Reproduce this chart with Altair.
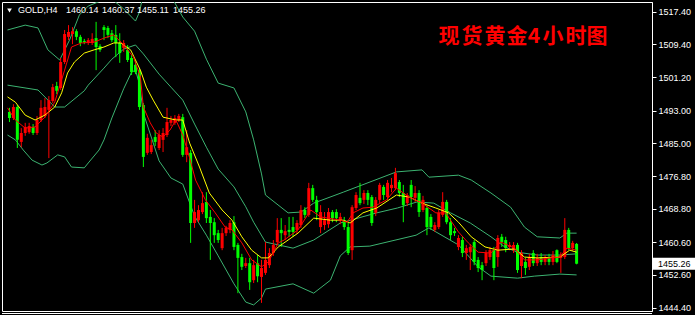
import altair as alt
import pandas as pd

# ---- GOLD H4 candles (oldest -> newest) ----
opens = [1492.7, 1491.2, 1493.9, 1485.3, 1487.5, 1487.7, 1489.0, 1487.5, 1490.7, 1491.7,
         1493.2, 1495.4, 1499.1, 1498.6, 1505.0, 1511.2, 1511.9, 1512.6, 1511.2, 1510.2,
         1509.7, 1509.7, 1510.9, 1508.9, 1513.6, 1513.4, 1512.1, 1511.7, 1509.7, 1508.5,
         1508.0, 1506.0, 1504.3, 1503.0, 1494.4, 1482.6, 1482.8, 1486.5, 1483.8, 1485.8,
         1487.0, 1490.0, 1490.0, 1490.7, 1491.4, 1482.1, 1482.6, 1465.3, 1466.0, 1468.0,
         1470.5, 1466.8, 1465.5, 1462.8, 1459.1, 1462.8, 1463.6, 1465.5, 1459.9, 1456.9,
         1454.7, 1455.4, 1451.2, 1455.4, 1452.0, 1453.0, 1454.9, 1457.9, 1460.6, 1463.6,
         1462.3, 1463.6, 1464.3, 1463.6, 1464.8, 1468.5, 1467.3, 1473.9, 1471.0, 1464.3,
         1464.8, 1465.0, 1468.0, 1468.0, 1466.0, 1466.0, 1464.3, 1458.6, 1469.0, 1471.5,
         1471.0, 1472.7, 1471.7, 1467.8, 1471.0, 1474.2, 1471.7, 1473.9, 1473.9, 1475.4,
         1472.7, 1470.2, 1474.7, 1471.5, 1472.7, 1468.5, 1469.0, 1466.8, 1463.6, 1464.3,
         1467.3, 1470.5, 1465.5, 1463.3, 1459.4, 1461.1, 1457.9, 1458.1, 1460.6, 1456.2,
         1454.9, 1455.4, 1456.9, 1458.6, 1456.9, 1461.9, 1461.1, 1459.4, 1458.6, 1459.9,
         1454.7, 1455.7, 1454.5, 1457.9, 1455.4, 1456.9, 1455.7, 1456.9, 1455.7, 1458.6,
         1456.7, 1456.9, 1463.6, 1459.1, 1460.14]
highs = [1493.7, 1494.6, 1494.4, 1488.7, 1490.0, 1490.0, 1489.7, 1491.7, 1495.6, 1496.1,
         1496.6, 1499.6, 1500.1, 1506.0, 1512.9, 1514.1, 1513.6, 1513.1, 1511.7, 1510.7,
         1510.9, 1512.1, 1514.9, 1509.4, 1514.1, 1513.9, 1512.9, 1514.1, 1512.1, 1510.4,
         1509.2, 1506.7, 1505.5, 1503.5, 1494.9, 1487.3, 1485.8, 1488.2, 1488.2, 1488.7,
         1493.7, 1491.7, 1491.9, 1492.2, 1492.2, 1488.2, 1483.3, 1471.0, 1469.7, 1472.9,
         1472.9, 1468.5, 1466.5, 1463.6, 1464.1, 1464.6, 1466.0, 1467.0, 1460.4, 1457.7,
         1456.7, 1456.7, 1456.2, 1457.4, 1456.2, 1460.6, 1459.1, 1461.1, 1466.5, 1466.5,
         1464.8, 1466.8, 1466.8, 1466.0, 1469.7, 1469.2, 1475.2, 1474.7, 1472.0, 1469.7,
         1468.0, 1469.0, 1468.5, 1468.7, 1467.8, 1466.8, 1465.3, 1469.7, 1472.9, 1475.2,
         1473.4, 1473.4, 1472.2, 1471.7, 1475.2, 1474.7, 1475.9, 1476.4, 1478.9, 1475.9,
         1474.7, 1472.7, 1475.9, 1474.4, 1473.4, 1472.0, 1469.7, 1467.5, 1465.5, 1468.5,
         1472.9, 1471.0, 1466.5, 1464.1, 1462.3, 1461.9, 1459.9, 1460.1, 1461.1, 1456.9,
         1455.7, 1458.6, 1459.4, 1459.4, 1462.3, 1462.6, 1461.9, 1460.6, 1460.6, 1460.4,
         1458.6, 1456.7, 1457.7, 1458.6, 1457.7, 1457.9, 1457.4, 1457.7, 1458.4, 1458.8,
         1458.1, 1466.5, 1464.1, 1460.9, 1460.37]
lows = [1490.2, 1490.7, 1483.8, 1484.0, 1486.8, 1487.3, 1487.0, 1487.0, 1490.2, 1491.2,
        1481.3, 1494.9, 1497.1, 1498.1, 1504.5, 1510.4, 1509.4, 1510.4, 1508.9, 1509.4,
        1509.2, 1509.2, 1503.0, 1507.5, 1510.4, 1510.9, 1509.9, 1506.2, 1504.8, 1507.5,
        1505.0, 1501.8, 1502.0, 1493.2, 1479.1, 1482.1, 1482.3, 1484.3, 1483.3, 1482.8,
        1486.5, 1489.2, 1489.5, 1490.2, 1481.6, 1480.3, 1460.4, 1464.1, 1465.5, 1467.5,
        1465.3, 1456.2, 1460.4, 1460.4, 1458.6, 1462.1, 1462.8, 1458.6, 1448.0, 1453.7,
        1454.2, 1448.8, 1450.5, 1450.7, 1445.6, 1452.5, 1454.2, 1457.2, 1459.9, 1459.4,
        1461.1, 1461.9, 1461.9, 1462.6, 1464.1, 1466.5, 1466.8, 1470.5, 1466.0, 1462.8,
        1463.6, 1464.1, 1465.5, 1465.5, 1465.0, 1463.6, 1457.4, 1456.2, 1468.5, 1469.7,
        1470.0, 1469.7, 1464.6, 1467.0, 1470.2, 1471.0, 1471.0, 1472.9, 1473.4, 1471.7,
        1465.5, 1469.5, 1469.2, 1470.5, 1466.8, 1468.0, 1462.3, 1463.6, 1463.1, 1463.8,
        1466.8, 1465.0, 1461.1, 1462.1, 1458.6, 1456.9, 1456.2, 1453.7, 1454.9, 1453.2,
        1451.2, 1454.7, 1456.2, 1451.2, 1454.5, 1459.4, 1458.1, 1458.6, 1457.9, 1453.0,
        1451.7, 1452.5, 1453.7, 1454.7, 1454.7, 1454.9, 1454.9, 1454.9, 1454.9, 1455.4,
        1453.0, 1456.4, 1458.6, 1458.4, 1455.11]
closes = [1491.2, 1493.9, 1485.8, 1487.5, 1489.0, 1489.2, 1487.5, 1490.7, 1493.7, 1493.9,
          1495.6, 1498.8, 1497.9, 1505.0, 1511.9, 1512.4, 1512.6, 1511.2, 1509.7, 1509.9,
          1510.4, 1510.7, 1508.7, 1508.0, 1512.9, 1511.7, 1510.4, 1509.7, 1507.2, 1509.7,
          1505.5, 1502.5, 1502.5, 1493.9, 1481.6, 1486.3, 1484.5, 1485.3, 1487.0, 1487.5,
          1490.2, 1490.7, 1491.2, 1491.7, 1482.1, 1484.0, 1465.3, 1468.0, 1468.5, 1470.2,
          1466.5, 1465.3, 1462.3, 1461.1, 1462.8, 1464.1, 1465.3, 1459.4, 1456.7, 1454.5,
          1455.4, 1450.7, 1454.9, 1452.2, 1454.2, 1456.2, 1457.9, 1459.9, 1463.6, 1462.8,
          1463.3, 1463.1, 1463.1, 1465.3, 1468.5, 1467.3, 1473.9, 1471.0, 1468.0, 1468.0,
          1466.0, 1468.0, 1466.5, 1466.5, 1466.8, 1464.3, 1457.9, 1469.2, 1472.2, 1470.2,
          1472.7, 1471.0, 1465.3, 1471.0, 1474.7, 1472.2, 1475.2, 1474.7, 1477.6, 1472.7,
          1469.7, 1472.2, 1471.7, 1472.7, 1468.0, 1471.0, 1464.3, 1464.3, 1464.8, 1467.8,
          1470.5, 1465.5, 1462.3, 1462.8, 1461.6, 1457.9, 1459.1, 1459.4, 1455.7, 1454.2,
          1453.7, 1457.9, 1458.6, 1454.2, 1461.6, 1460.6, 1459.1, 1459.9, 1459.9, 1453.7,
          1457.9, 1454.2, 1456.9, 1455.4, 1456.7, 1455.7, 1456.7, 1455.7, 1457.4, 1455.7,
          1457.4, 1463.6, 1459.1, 1460.4, 1455.26]

# ---- indicator lines, read at bar positions ----
fast_ma_bar = [-0.5, 1.5, 4, 6.5, 9, 11.5, 14, 15.75, 18.25, 21.5, 24, 26.5, 29, 31.5, 33.25, 34,
               35.75, 37.25, 39, 40.75, 42.25, 44, 45.75, 47.25, 49.75, 52.25, 54.75, 56.5, 59,
               61.5, 64, 65.75, 68.25, 69.75, 73.25, 76.5, 79, 84, 85.75, 87.25, 89.75, 92.25,
               95.75, 98.25, 101.5, 104.75, 108.25, 110.75, 114, 116.5, 119, 122.25, 124.75,
               128.25, 130.75, 134, 137.25, 139.75, 141.5, 144]
fast_ma = [1493.7, 1490.7, 1488.7, 1489.0, 1491.4, 1495.1, 1503.0, 1508.7, 1509.7, 1509.9, 1510.9,
           1511.7, 1509.2, 1506.2, 1501.3, 1493.9, 1490.0, 1487.5, 1486.5, 1488.2, 1490.7, 1487.0,
           1481.3, 1475.9, 1471.0, 1467.8, 1464.3, 1463.6, 1460.4, 1456.2, 1454.5, 1455.7, 1460.4,
           1461.1, 1463.6, 1468.5, 1466.8, 1466.0, 1465.5, 1467.8, 1469.0, 1469.2, 1471.0, 1473.9,
           1471.7, 1470.2, 1467.8, 1467.8, 1463.1, 1460.4, 1458.1, 1457.9, 1460.6, 1459.1, 1456.2,
           1456.2, 1456.7, 1456.9, 1459.1, 1458.6]

slow_ma_bar = [-0.5, 1.5, 4, 6.5, 9, 11.5, 13.25, 14.75, 16.5, 19, 21.5, 24, 26.5, 28.25, 30.75,
               33.25, 34.75, 36.5, 39, 42.25, 44, 45.75, 48.25, 50.75, 54, 56.5, 59, 61.5, 64,
               65.75, 68.25, 73.25, 77.25, 81.5, 84.75, 86.5, 89.75, 93.25, 98.25, 101.5, 104.75,
               108.25, 111.5, 114, 117.25, 120.75, 124, 128.25, 130.75, 134, 139.75, 142.25, 144]
slow_ma = [1496.4, 1495.1, 1491.9, 1490.7, 1491.9, 1493.9, 1497.4, 1502.3, 1505.0, 1507.2, 1508.0,
           1508.7, 1509.7, 1509.7, 1508.0, 1503.0, 1498.8, 1495.6, 1491.4, 1490.7, 1490.7, 1485.0,
           1479.1, 1472.7, 1468.5, 1466.0, 1461.9, 1458.6, 1456.7, 1456.7, 1459.4, 1462.8, 1466.5,
           1466.0, 1466.0, 1465.3, 1467.8, 1469.0, 1472.2, 1471.7, 1470.2, 1469.0, 1467.8, 1465.5,
           1461.9, 1459.4, 1458.6, 1458.9, 1456.9, 1456.7, 1456.9, 1458.6, 1458.1]

bb_upper_bar = [-0.5, 4, 7.25, 9.75, 12.75, 15.25, 17.75, 20, 23, 26, 29, 32, 33, 34, 38, 41, 44,
                47, 50, 53, 57, 60, 62, 64, 65, 70.75, 74, 77.25, 84.75, 98.25, 104.75, 106.5,
                114, 117.25, 122.25, 127.25, 130.75, 134, 139.75, 141.5, 144]
bb_upper = [1512.9, 1514.1, 1513.4, 1508.0, 1505.5, 1510.4, 1516.6, 1518.8, 1520.0, 1520.5, 1518.1,
            1515.1, 1517.3, 1521.8, 1523.2, 1521.3, 1516.1, 1512.6, 1505.7, 1499.8, 1498.6, 1492.7,
            1485.8, 1477.4, 1472.2, 1467.8, 1468.0, 1470.2, 1472.9, 1477.9, 1478.4, 1476.6,
            1477.1, 1475.9, 1472.7, 1469.2, 1464.3, 1461.9, 1461.6, 1462.8, 1462.8]

bb_mid_bar = [-0.5, 7.25, 11.5, 14, 19, 20, 24, 26, 29, 32, 34, 38, 41, 44, 47, 50, 53, 57, 60,
              62, 65, 72, 77.25, 84, 93.25, 98.5, 103.5, 107.75, 112, 117, 122.25, 125.75, 129,
              134, 139.75, 144]
bb_mid = [1499.3, 1498.1, 1493.9, 1493.9, 1497.9, 1499.3, 1503.5, 1505.7, 1508.2, 1509.2, 1507.0,
          1502.0, 1498.8, 1495.6, 1489.7, 1484.0, 1478.6, 1474.2, 1469.3, 1465.5, 1460.6, 1459.1,
          1461.1, 1465.3, 1467.8, 1469.0, 1470.5, 1470.2, 1467.8, 1465.3, 1461.9, 1459.4, 1458.1,
          1457.4, 1457.4, 1457.7]

bb_lower_bar = [-0.5, 1.5, 3.5, 5.75, 8.25, 9.5, 12.25, 14, 15.75, 19, 20, 22.75, 24, 26, 29, 31,
                32, 33, 34, 36, 38, 41, 44, 47, 50, 53, 57, 60, 62, 64, 65, 72, 77.25, 81.5, 84,
                86.5, 91.5, 103.25, 106.5, 114, 119, 122.25, 129, 133.25, 139.75, 144]
bb_lower = [1487.0, 1485.8, 1483.3, 1480.8, 1479.6, 1480.1, 1482.1, 1481.6, 1479.1, 1478.9, 1480.1,
            1483.3, 1485.8, 1491.2, 1498.4, 1502.5, 1503.0, 1499.6, 1492.4, 1486.5, 1480.6, 1476.4,
            1474.9, 1467.0, 1462.3, 1457.2, 1450.3, 1445.8, 1445.1, 1446.8, 1449.0, 1450.3, 1448.0,
            1451.2, 1457.2, 1459.4, 1459.6, 1462.3, 1464.1, 1459.9, 1454.5, 1452.2, 1451.7, 1452.2,
            1452.7, 1452.5]

price_ticks = [1517.40, 1509.40, 1501.20, 1493.00, 1485.00, 1476.80, 1468.80, 1460.60, 1452.60, 1444.40]
symbol = "GOLD,H4"
caption = "现货黄金4小时图"

# ---- tables ----
candles = pd.DataFrame({"open": opens, "high": highs, "low": lows, "close": closes})
candles["bar"] = range(len(candles))
candles["dir"] = ["up" if c >= o else "down" for o, c in zip(opens, closes)]
candles["body_top"] = candles[["open", "close"]].max(axis=1)
candles["body_bot"] = candles[["open", "close"]].min(axis=1)


def series(bars, values):
    return pd.DataFrame({"bar": bars, "price": values})


W, H = 650, 309
x_scale = alt.Scale(domain=[-0.625, W / 4 - 0.625], nice=False, zero=False)
y_scale = alt.Scale(domain=[1443.6, 1519.8], nice=False, zero=False)
dir_color = alt.Color("dir:N", scale=alt.Scale(domain=["up", "down"], range=["#ff0000", "#00ff00"]),
                      legend=None)
X = alt.X("bar:Q", scale=x_scale, axis=None)

# one shared price axis on the right, repeated on every layer so the merge keeps it intact
price_axis = alt.Axis(orient="right", values=price_ticks, format=".2f", title=None, grid=False,
                      labelColor="#ffffff", labelFont="Liberation Sans", labelFontSize=9,
                      labelPadding=2, tickColor="#ffffff", tickSize=4, domainColor="#ffffff",
                      labelOverlap=False, labelFlush=False, labelBound=False)


def Y(field=None, datum=None):
    if datum is not None:
        return alt.Y(datum=datum, type="quantitative", scale=y_scale, axis=price_axis)
    return alt.Y(field, type="quantitative", scale=y_scale, axis=price_axis)


wicks = alt.Chart(candles).mark_rule(strokeWidth=1).encode(
    x=X, y=Y("low"), y2="high:Q", color=dir_color,
)
bodies = alt.Chart(candles).mark_bar(size=3, strokeWidth=0).encode(
    x=X, y=Y("body_bot"), y2="body_top:Q", color=dir_color,
)


def line(df, color):
    return alt.Chart(df).mark_line(color=color, strokeWidth=1, clip=True, interpolate="linear").encode(
        x=X, y=Y("price")
    )


band_color = "#3cb371"
layers = [
    line(series(bb_upper_bar, bb_upper), band_color),
    line(series(bb_mid_bar, bb_mid), band_color),
    line(series(bb_lower_bar, bb_lower), band_color),
    wicks,
    bodies,
    line(series(slow_ma_bar, slow_ma), "#ffff00"),
    line(series(fast_ma_bar, fast_ma), "#ff0000"),
]

# header: symbol and the last bar's OHLC
header_font = dict(font="Liberation Sans", fontSize=9, color="#ffffff", align="left", baseline="middle")
header_tokens = [symbol] + [f"{v:.2f}" for v in (opens[-1], highs[-1], lows[-1], closes[-1])]
header_x = [16, 64, 100, 135, 171]
for tx, tok in zip(header_x, header_tokens):
    layers.append(alt.Chart().mark_text(**header_font).encode(x=alt.value(tx), y=alt.value(8),
                                                                text=alt.value(tok)))
layers.append(alt.Chart().mark_point(shape="triangle-down", filled=True, color="#ffffff", size=22,
                                     opacity=1).encode(x=alt.value(7.5), y=alt.value(8.5)))

# red caption, one glyph at a time for its wide spacing
caption_x = [447, 470, 493, 515, 532, 551, 574, 595]
for cx, ch in zip(caption_x, caption):
    layers.append(alt.Chart().mark_text(font="Noto Sans CJK SC", fontSize=21, fontWeight="bold",
                                        color="#ff0000", align="center", baseline="middle").encode(
        x=alt.value(cx), y=alt.value(35), text=alt.value(ch)))

# current price marker on the price scale
last = closes[-1]
half = 6 / (H / (1519.8 - 1443.6))
layers.append(alt.Chart().mark_rect(color="#ffffff", clip=False).encode(
    x=alt.value(W + 1), x2=alt.value(W + 43),
    y=Y(datum=last + half), y2=alt.Y2(datum=last - half)))
layers.append(alt.Chart().mark_text(font="Liberation Sans", fontSize=9, color="#000000",
                                    align="left", baseline="middle", clip=False).encode(
    x=alt.value(W + 6), y=Y(datum=last), text=alt.value(f"{last:.2f}")))

# second frame line under the plot
layers.append(alt.Chart().mark_rule(color="#ffffff", clip=False).encode(
    x=alt.value(0), x2=alt.value(W), y=alt.value(H + 2.5)))

chart = alt.layer(*layers).properties(
    width=W, height=H,
    autosize=alt.AutoSizeParams(type="none"),
    padding={"left": 2, "top": 2, "right": 43, "bottom": 4},
    background="#000000",
).configure_view(stroke="#ffffff", strokeWidth=1)

chart.save("out.html", embed_options={"renderer": "svg", "actions": False})
